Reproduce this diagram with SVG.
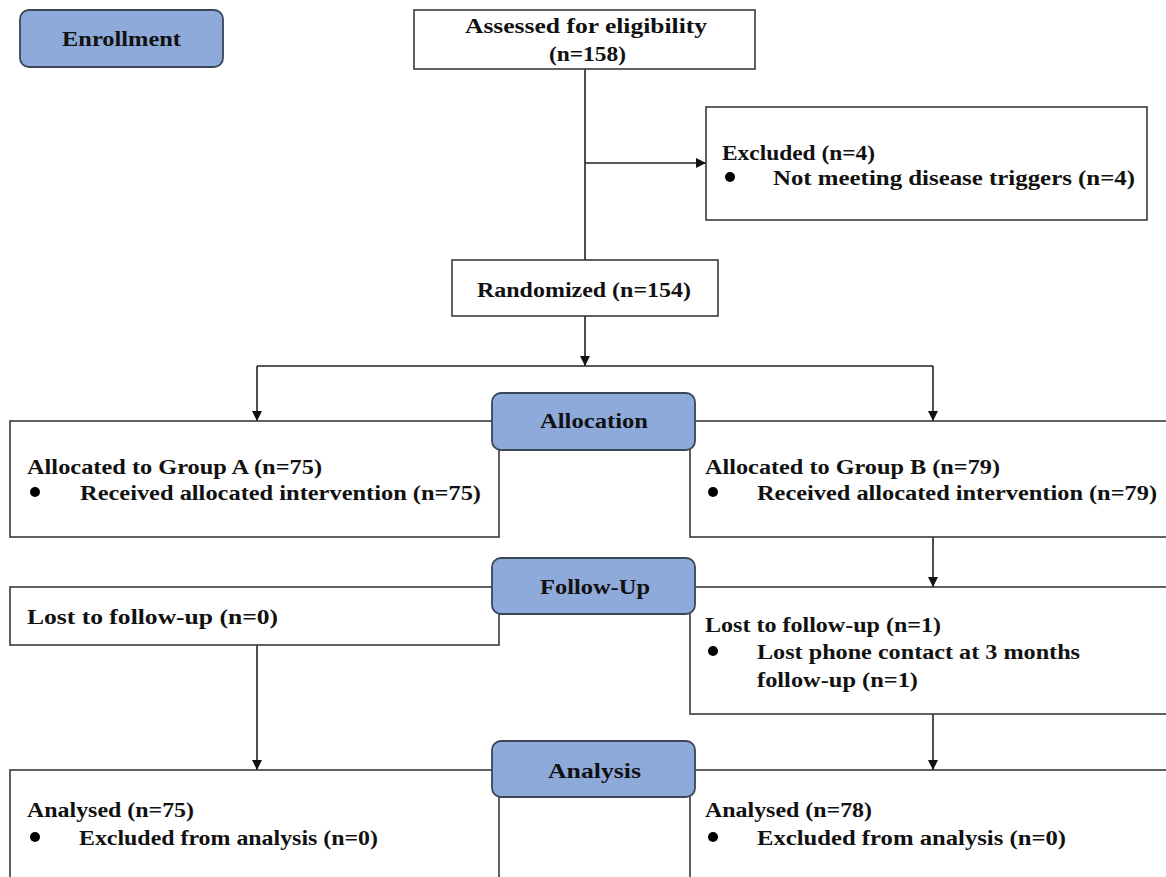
<svg xmlns="http://www.w3.org/2000/svg" width="1166" height="877" viewBox="0 0 1166 877">
<style>
.box{fill:#fff;stroke:#3a3a3a;stroke-width:1.6}
.stage{fill:#8eaadb;stroke:#3b4656;stroke-width:1.8}
.t{font-family:"Liberation Serif",serif;font-weight:bold;font-size:20px;fill:#111}
.c{stroke:#222;stroke-width:1.6;fill:none}
.dot{fill:#000}
</style>
<defs>
<marker id="ah" viewBox="0 0 10 10" refX="10" refY="5" markerWidth="10" markerHeight="10" markerUnits="userSpaceOnUse" orient="auto">
<path d="M0,0 L10,5 L0,10 Z" fill="#111"/>
</marker>
</defs>
<rect width="1166" height="877" fill="#fff"/>
<g id="connectors">
<line class="c" x1="585" y1="69" x2="585" y2="260"/>
<line class="c" x1="585" y1="163" x2="706" y2="163" marker-end="url(#ah)"/>
<line class="c" x1="585" y1="316" x2="585" y2="366" marker-end="url(#ah)"/>
<line class="c" x1="257" y1="366" x2="933" y2="366"/>
<line class="c" x1="257" y1="366" x2="257" y2="421" marker-end="url(#ah)"/>
<line class="c" x1="933" y1="366" x2="933" y2="421" marker-end="url(#ah)"/>
<line class="c" x1="933" y1="537" x2="933" y2="587" marker-end="url(#ah)"/>
<line class="c" x1="257" y1="645" x2="257" y2="770" marker-end="url(#ah)"/>
<line class="c" x1="933" y1="714" x2="933" y2="770" marker-end="url(#ah)"/>
</g>
<g id="enrollment">
<rect class="stage" x="20" y="10" width="203" height="57" rx="9"/>
<text class="t" x="62" y="46" textLength="119" lengthAdjust="spacingAndGlyphs">Enrollment</text>
</g>
<g id="assessed">
<rect class="box" x="414" y="10" width="341" height="59"/>
<text class="t" x="465" y="33" textLength="242" lengthAdjust="spacingAndGlyphs">Assessed for eligibility</text>
<text class="t" x="549" y="61" textLength="77" lengthAdjust="spacingAndGlyphs">(n=158)</text>
</g>
<g id="excluded">
<rect class="box" x="706" y="107" width="441" height="113"/>
<text class="t" x="722" y="160" textLength="153" lengthAdjust="spacingAndGlyphs">Excluded (n=4)</text>
<circle class="dot" cx="730" cy="177" r="5"/>
<text class="t" x="773" y="185" textLength="362" lengthAdjust="spacingAndGlyphs">Not meeting disease triggers (n=4)</text>
</g>
<g id="randomized">
<rect class="box" x="452" y="260" width="266" height="56"/>
<text class="t" x="477" y="297" textLength="214" lengthAdjust="spacingAndGlyphs">Randomized (n=154)</text>
</g>
<g id="groupA">
<rect class="box" x="10" y="421" width="489" height="116"/>
<text class="t" x="27" y="474" textLength="295" lengthAdjust="spacingAndGlyphs">Allocated to Group A (n=75)</text>
<circle class="dot" cx="35" cy="492" r="5"/>
<text class="t" x="80" y="500" textLength="401" lengthAdjust="spacingAndGlyphs">Received allocated intervention (n=75)</text>
</g>
<g id="groupB">
<rect class="box" x="690" y="421" width="490" height="116"/>
<text class="t" x="705" y="474" textLength="295" lengthAdjust="spacingAndGlyphs">Allocated to Group B (n=79)</text>
<circle class="dot" cx="713" cy="492" r="5"/>
<text class="t" x="757" y="500" textLength="400" lengthAdjust="spacingAndGlyphs">Received allocated intervention (n=79)</text>
</g>
<g id="allocation">
<rect class="stage" x="492" y="393" width="203" height="57" rx="9"/>
<text class="t" x="540" y="428" textLength="108" lengthAdjust="spacingAndGlyphs">Allocation</text>
</g>
<g id="lostA">
<rect class="box" x="10" y="587" width="489" height="58"/>
<text class="t" x="27" y="624" textLength="251" lengthAdjust="spacingAndGlyphs">Lost to follow-up (n=0)</text>
</g>
<g id="lostB">
<rect class="box" x="690" y="587" width="490" height="127"/>
<text class="t" x="705" y="632" textLength="236" lengthAdjust="spacingAndGlyphs">Lost to follow-up (n=1)</text>
<circle class="dot" cx="713" cy="651" r="5"/>
<text class="t" x="757" y="659" textLength="323" lengthAdjust="spacingAndGlyphs">Lost phone contact at 3 months</text>
<text class="t" x="757" y="687" textLength="161" lengthAdjust="spacingAndGlyphs">follow-up (n=1)</text>
</g>
<g id="followup">
<rect class="stage" x="492" y="558" width="203" height="56" rx="9"/>
<text class="t" x="540" y="594" textLength="110" lengthAdjust="spacingAndGlyphs">Follow-Up</text>
</g>
<g id="analysedA">
<rect class="box" x="10" y="770" width="489" height="120"/>
<text class="t" x="27" y="817" textLength="167" lengthAdjust="spacingAndGlyphs">Analysed (n=75)</text>
<circle class="dot" cx="35" cy="837" r="5"/>
<text class="t" x="79" y="845" textLength="299" lengthAdjust="spacingAndGlyphs">Excluded from analysis (n=0)</text>
</g>
<g id="analysedB">
<rect class="box" x="690" y="770" width="490" height="120"/>
<text class="t" x="705" y="817" textLength="167" lengthAdjust="spacingAndGlyphs">Analysed (n=78)</text>
<circle class="dot" cx="713" cy="837" r="5"/>
<text class="t" x="757" y="845" textLength="309" lengthAdjust="spacingAndGlyphs">Excluded from analysis (n=0)</text>
</g>
<g id="analysis">
<rect class="stage" x="492" y="741" width="203" height="56" rx="9"/>
<text class="t" x="548" y="778" textLength="93" lengthAdjust="spacingAndGlyphs">Analysis</text>
</g>
</svg>
